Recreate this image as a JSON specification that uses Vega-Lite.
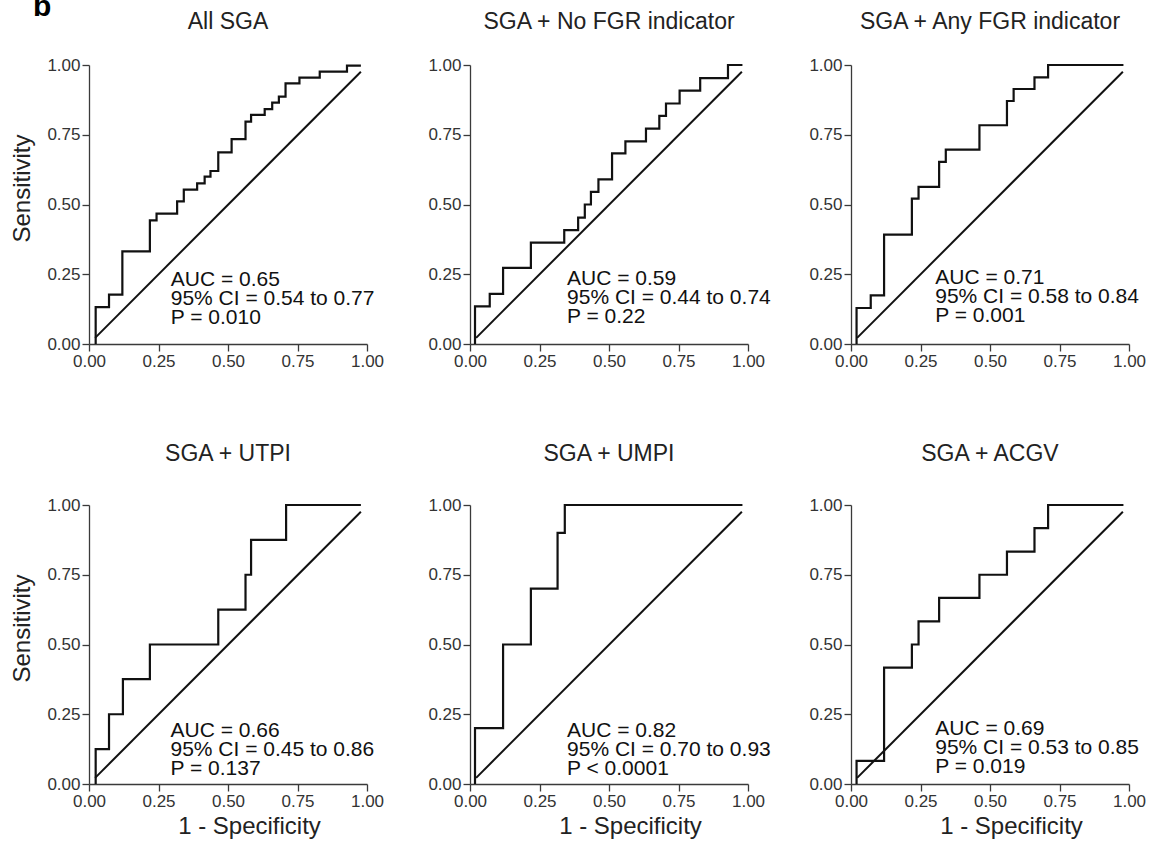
{
  "$schema": "https://vega.github.io/schema/vega-lite/v6.json",
  "padding": {"left": 10, "top": -8, "right": 5, "bottom": 5},
  "title": {"text": "b", "anchor": "start", "frame": "group", "fontSize": 30, "fontWeight": "bold", "color": "#000", "dx": -56, "offset": -35, "baseline": "alphabetic"},
  "datasets": {
    "roc": [
      {"panel": "All SGA", "i": 0, "fpr": 0.024, "tpr": 0},
      {"panel": "All SGA", "i": 1, "fpr": 0.024, "tpr": 0.132},
      {"panel": "All SGA", "i": 2, "fpr": 0.072, "tpr": 0.177},
      {"panel": "All SGA", "i": 3, "fpr": 0.12, "tpr": 0.332},
      {"panel": "All SGA", "i": 4, "fpr": 0.219, "tpr": 0.443},
      {"panel": "All SGA", "i": 5, "fpr": 0.243, "tpr": 0.467},
      {"panel": "All SGA", "i": 6, "fpr": 0.317, "tpr": 0.511},
      {"panel": "All SGA", "i": 7, "fpr": 0.341, "tpr": 0.553},
      {"panel": "All SGA", "i": 8, "fpr": 0.389, "tpr": 0.576},
      {"panel": "All SGA", "i": 9, "fpr": 0.416, "tpr": 0.6},
      {"panel": "All SGA", "i": 10, "fpr": 0.437, "tpr": 0.62},
      {"panel": "All SGA", "i": 11, "fpr": 0.465, "tpr": 0.687},
      {"panel": "All SGA", "i": 12, "fpr": 0.513, "tpr": 0.734},
      {"panel": "All SGA", "i": 13, "fpr": 0.563, "tpr": 0.797},
      {"panel": "All SGA", "i": 14, "fpr": 0.583, "tpr": 0.821},
      {"panel": "All SGA", "i": 15, "fpr": 0.632, "tpr": 0.842},
      {"panel": "All SGA", "i": 16, "fpr": 0.659, "tpr": 0.865},
      {"panel": "All SGA", "i": 17, "fpr": 0.683, "tpr": 0.887},
      {"panel": "All SGA", "i": 18, "fpr": 0.707, "tpr": 0.934},
      {"panel": "All SGA", "i": 19, "fpr": 0.757, "tpr": 0.955},
      {"panel": "All SGA", "i": 20, "fpr": 0.83, "tpr": 0.976},
      {"panel": "All SGA", "i": 21, "fpr": 0.928, "tpr": 0.998},
      {"panel": "All SGA", "i": 22, "fpr": 0.978, "tpr": 0.998},

      {"panel": "SGA + No FGR indicator", "i": 0, "fpr": 0.018, "tpr": 0},
      {"panel": "SGA + No FGR indicator", "i": 1, "fpr": 0.018, "tpr": 0.135},
      {"panel": "SGA + No FGR indicator", "i": 2, "fpr": 0.071, "tpr": 0.18},
      {"panel": "SGA + No FGR indicator", "i": 3, "fpr": 0.119, "tpr": 0.273},
      {"panel": "SGA + No FGR indicator", "i": 4, "fpr": 0.219, "tpr": 0.363},
      {"panel": "SGA + No FGR indicator", "i": 5, "fpr": 0.339, "tpr": 0.408},
      {"panel": "SGA + No FGR indicator", "i": 6, "fpr": 0.389, "tpr": 0.453},
      {"panel": "SGA + No FGR indicator", "i": 7, "fpr": 0.413, "tpr": 0.5},
      {"panel": "SGA + No FGR indicator", "i": 8, "fpr": 0.435, "tpr": 0.545},
      {"panel": "SGA + No FGR indicator", "i": 9, "fpr": 0.462, "tpr": 0.59},
      {"panel": "SGA + No FGR indicator", "i": 10, "fpr": 0.511, "tpr": 0.683},
      {"panel": "SGA + No FGR indicator", "i": 11, "fpr": 0.559, "tpr": 0.726},
      {"panel": "SGA + No FGR indicator", "i": 12, "fpr": 0.633, "tpr": 0.772},
      {"panel": "SGA + No FGR indicator", "i": 13, "fpr": 0.681, "tpr": 0.818},
      {"panel": "SGA + No FGR indicator", "i": 14, "fpr": 0.705, "tpr": 0.862},
      {"panel": "SGA + No FGR indicator", "i": 15, "fpr": 0.754, "tpr": 0.908},
      {"panel": "SGA + No FGR indicator", "i": 16, "fpr": 0.828, "tpr": 0.953},
      {"panel": "SGA + No FGR indicator", "i": 17, "fpr": 0.928, "tpr": 1.0},
      {"panel": "SGA + No FGR indicator", "i": 18, "fpr": 0.98, "tpr": 1.0},

      {"panel": "SGA + Any FGR indicator", "i": 0, "fpr": 0.02, "tpr": 0},
      {"panel": "SGA + Any FGR indicator", "i": 1, "fpr": 0.02, "tpr": 0.129},
      {"panel": "SGA + Any FGR indicator", "i": 2, "fpr": 0.071, "tpr": 0.174},
      {"panel": "SGA + Any FGR indicator", "i": 3, "fpr": 0.119, "tpr": 0.392},
      {"panel": "SGA + Any FGR indicator", "i": 4, "fpr": 0.219, "tpr": 0.521},
      {"panel": "SGA + Any FGR indicator", "i": 5, "fpr": 0.243, "tpr": 0.563},
      {"panel": "SGA + Any FGR indicator", "i": 6, "fpr": 0.317, "tpr": 0.653},
      {"panel": "SGA + Any FGR indicator", "i": 7, "fpr": 0.341, "tpr": 0.697},
      {"panel": "SGA + Any FGR indicator", "i": 8, "fpr": 0.462, "tpr": 0.784},
      {"panel": "SGA + Any FGR indicator", "i": 9, "fpr": 0.561, "tpr": 0.871},
      {"panel": "SGA + Any FGR indicator", "i": 10, "fpr": 0.585, "tpr": 0.914},
      {"panel": "SGA + Any FGR indicator", "i": 11, "fpr": 0.66, "tpr": 0.956},
      {"panel": "SGA + Any FGR indicator", "i": 12, "fpr": 0.709, "tpr": 1.0},
      {"panel": "SGA + Any FGR indicator", "i": 13, "fpr": 0.98, "tpr": 1.0},

      {"panel": "SGA + UTPI", "i": 0, "fpr": 0.024, "tpr": 0},
      {"panel": "SGA + UTPI", "i": 1, "fpr": 0.024, "tpr": 0.125},
      {"panel": "SGA + UTPI", "i": 2, "fpr": 0.072, "tpr": 0.25},
      {"panel": "SGA + UTPI", "i": 3, "fpr": 0.122, "tpr": 0.376},
      {"panel": "SGA + UTPI", "i": 4, "fpr": 0.219, "tpr": 0.5},
      {"panel": "SGA + UTPI", "i": 5, "fpr": 0.465, "tpr": 0.625},
      {"panel": "SGA + UTPI", "i": 6, "fpr": 0.563, "tpr": 0.75},
      {"panel": "SGA + UTPI", "i": 7, "fpr": 0.583, "tpr": 0.875},
      {"panel": "SGA + UTPI", "i": 8, "fpr": 0.709, "tpr": 1.0},
      {"panel": "SGA + UTPI", "i": 9, "fpr": 0.978, "tpr": 1.0},

      {"panel": "SGA + UMPI", "i": 0, "fpr": 0.018, "tpr": 0},
      {"panel": "SGA + UMPI", "i": 1, "fpr": 0.018, "tpr": 0.2},
      {"panel": "SGA + UMPI", "i": 2, "fpr": 0.119, "tpr": 0.5},
      {"panel": "SGA + UMPI", "i": 3, "fpr": 0.219, "tpr": 0.7},
      {"panel": "SGA + UMPI", "i": 4, "fpr": 0.315, "tpr": 0.9},
      {"panel": "SGA + UMPI", "i": 5, "fpr": 0.341, "tpr": 1.0},
      {"panel": "SGA + UMPI", "i": 6, "fpr": 0.98, "tpr": 1.0},

      {"panel": "SGA + ACGV", "i": 0, "fpr": 0.02, "tpr": 0},
      {"panel": "SGA + ACGV", "i": 1, "fpr": 0.02, "tpr": 0.083},
      {"panel": "SGA + ACGV", "i": 2, "fpr": 0.119, "tpr": 0.417},
      {"panel": "SGA + ACGV", "i": 3, "fpr": 0.219, "tpr": 0.5},
      {"panel": "SGA + ACGV", "i": 4, "fpr": 0.243, "tpr": 0.583},
      {"panel": "SGA + ACGV", "i": 5, "fpr": 0.317, "tpr": 0.667},
      {"panel": "SGA + ACGV", "i": 6, "fpr": 0.462, "tpr": 0.75},
      {"panel": "SGA + ACGV", "i": 7, "fpr": 0.561, "tpr": 0.833},
      {"panel": "SGA + ACGV", "i": 8, "fpr": 0.66, "tpr": 0.917},
      {"panel": "SGA + ACGV", "i": 9, "fpr": 0.709, "tpr": 1.0},
      {"panel": "SGA + ACGV", "i": 10, "fpr": 0.98, "tpr": 1.0}
    ],
    "diag": [
      {"fpr": 0.022, "tpr": 0.022},
      {"fpr": 0.978, "tpr": 0.976}
    ],
    "notes": [
      {"panel": "All SGA", "note": "AUC = 0.65\n95% CI = 0.54 to 0.77\nP = 0.010"},
      {"panel": "SGA + No FGR indicator", "note": "AUC = 0.59\n95% CI = 0.44 to 0.74\nP = 0.22"},
      {"panel": "SGA + Any FGR indicator", "note": "AUC = 0.71\n95% CI = 0.58 to 0.84\nP = 0.001"},
      {"panel": "SGA + UTPI", "note": "AUC = 0.66\n95% CI = 0.45 to 0.86\nP = 0.137"},
      {"panel": "SGA + UMPI", "note": "AUC = 0.82\n95% CI = 0.70 to 0.93\nP < 0.0001"},
      {"panel": "SGA + ACGV", "note": "AUC = 0.69\n95% CI = 0.53 to 0.85\nP = 0.019"}
    ]
  },
  "columns": 3,
  "bounds": "flush",
  "spacing": {"row": 161, "column": 103},
  "concat": [
    {
      "width": 278, "height": 279,
      "title": {"text": "All SGA", "offset": 22},
      "layer": [
        {"data": {"name": "roc"}, "transform": [{"filter": "datum.panel === 'All SGA'"}],
         "mark": {"type": "line", "interpolate": "step-after", "color": "#111", "strokeWidth": 2.2},
         "encoding": {
           "x": {"field": "fpr", "type": "quantitative", "scale": {"domain": [0, 1], "nice": false}, "axis": {"title": null, "values": [0, 0.25, 0.5, 0.75, 1], "format": ".2f"}},
           "y": {"field": "tpr", "type": "quantitative", "scale": {"domain": [0, 1], "nice": false}, "axis": {"title": "Sensitivity", "values": [0, 0.25, 0.5, 0.75, 1], "format": ".2f"}},
           "order": {"field": "i"}}},
        {"data": {"name": "diag"}, "mark": {"type": "line", "color": "#111", "strokeWidth": 2},
         "encoding": {"x": {"field": "fpr", "type": "quantitative"}, "y": {"field": "tpr", "type": "quantitative"}}},
        {"data": {"name": "notes"}, "transform": [{"filter": "datum.panel === 'All SGA'"}],
         "mark": {"type": "text", "align": "left", "baseline": "alphabetic", "fontSize": 21, "lineBreak": "\n", "lineHeight": 19, "color": "#111"},
         "encoding": {"x": {"datum": 0.294, "type": "quantitative"}, "y": {"datum": 0.208, "type": "quantitative"}, "text": {"field": "note"}}}
      ]
    },
    {
      "width": 278, "height": 279,
      "title": {"text": "SGA + No FGR indicator", "offset": 22},
      "layer": [
        {"data": {"name": "roc"}, "transform": [{"filter": "datum.panel === 'SGA + No FGR indicator'"}],
         "mark": {"type": "line", "interpolate": "step-after", "color": "#111", "strokeWidth": 2.2},
         "encoding": {
           "x": {"field": "fpr", "type": "quantitative", "scale": {"domain": [0, 1], "nice": false}, "axis": {"title": null, "values": [0, 0.25, 0.5, 0.75, 1], "format": ".2f"}},
           "y": {"field": "tpr", "type": "quantitative", "scale": {"domain": [0, 1], "nice": false}, "axis": {"title": null, "values": [0, 0.25, 0.5, 0.75, 1], "format": ".2f"}},
           "order": {"field": "i"}}},
        {"data": {"name": "diag"}, "mark": {"type": "line", "color": "#111", "strokeWidth": 2},
         "encoding": {"x": {"field": "fpr", "type": "quantitative"}, "y": {"field": "tpr", "type": "quantitative"}}},
        {"data": {"name": "notes"}, "transform": [{"filter": "datum.panel === 'SGA + No FGR indicator'"}],
         "mark": {"type": "text", "align": "left", "baseline": "alphabetic", "fontSize": 21, "lineBreak": "\n", "lineHeight": 19, "color": "#111"},
         "encoding": {"x": {"datum": 0.349, "type": "quantitative"}, "y": {"datum": 0.211, "type": "quantitative"}, "text": {"field": "note"}}}
      ]
    },
    {
      "width": 278, "height": 279,
      "title": {"text": "SGA + Any FGR indicator", "offset": 22},
      "layer": [
        {"data": {"name": "roc"}, "transform": [{"filter": "datum.panel === 'SGA + Any FGR indicator'"}],
         "mark": {"type": "line", "interpolate": "step-after", "color": "#111", "strokeWidth": 2.2},
         "encoding": {
           "x": {"field": "fpr", "type": "quantitative", "scale": {"domain": [0, 1], "nice": false}, "axis": {"title": null, "values": [0, 0.25, 0.5, 0.75, 1], "format": ".2f"}},
           "y": {"field": "tpr", "type": "quantitative", "scale": {"domain": [0, 1], "nice": false}, "axis": {"title": null, "values": [0, 0.25, 0.5, 0.75, 1], "format": ".2f"}},
           "order": {"field": "i"}}},
        {"data": {"name": "diag"}, "mark": {"type": "line", "color": "#111", "strokeWidth": 2},
         "encoding": {"x": {"field": "fpr", "type": "quantitative"}, "y": {"field": "tpr", "type": "quantitative"}}},
        {"data": {"name": "notes"}, "transform": [{"filter": "datum.panel === 'SGA + Any FGR indicator'"}],
         "mark": {"type": "text", "align": "left", "baseline": "alphabetic", "fontSize": 21, "lineBreak": "\n", "lineHeight": 19, "color": "#111"},
         "encoding": {"x": {"datum": 0.303, "type": "quantitative"}, "y": {"datum": 0.214, "type": "quantitative"}, "text": {"field": "note"}}}
      ]
    },
    {
      "width": 278, "height": 279,
      "title": {"text": "SGA + UTPI", "offset": 30},
      "layer": [
        {"data": {"name": "roc"}, "transform": [{"filter": "datum.panel === 'SGA + UTPI'"}],
         "mark": {"type": "line", "interpolate": "step-after", "color": "#111", "strokeWidth": 2.2},
         "encoding": {
           "x": {"field": "fpr", "type": "quantitative", "scale": {"domain": [0, 1], "nice": false}, "axis": {"title": "1 - Specificity", "values": [0, 0.25, 0.5, 0.75, 1], "format": ".2f"}},
           "y": {"field": "tpr", "type": "quantitative", "scale": {"domain": [0, 1], "nice": false}, "axis": {"title": "Sensitivity", "values": [0, 0.25, 0.5, 0.75, 1], "format": ".2f"}},
           "order": {"field": "i"}}},
        {"data": {"name": "diag"}, "mark": {"type": "line", "color": "#111", "strokeWidth": 2},
         "encoding": {"x": {"field": "fpr", "type": "quantitative"}, "y": {"field": "tpr", "type": "quantitative"}}},
        {"data": {"name": "notes"}, "transform": [{"filter": "datum.panel === 'SGA + UTPI'"}],
         "mark": {"type": "text", "align": "left", "baseline": "alphabetic", "fontSize": 21, "lineBreak": "\n", "lineHeight": 19, "color": "#111"},
         "encoding": {"x": {"datum": 0.293, "type": "quantitative"}, "y": {"datum": 0.168, "type": "quantitative"}, "text": {"field": "note"}}}
      ]
    },
    {
      "width": 278, "height": 279,
      "title": {"text": "SGA + UMPI", "offset": 30},
      "layer": [
        {"data": {"name": "roc"}, "transform": [{"filter": "datum.panel === 'SGA + UMPI'"}],
         "mark": {"type": "line", "interpolate": "step-after", "color": "#111", "strokeWidth": 2.2},
         "encoding": {
           "x": {"field": "fpr", "type": "quantitative", "scale": {"domain": [0, 1], "nice": false}, "axis": {"title": "1 - Specificity", "values": [0, 0.25, 0.5, 0.75, 1], "format": ".2f"}},
           "y": {"field": "tpr", "type": "quantitative", "scale": {"domain": [0, 1], "nice": false}, "axis": {"title": null, "values": [0, 0.25, 0.5, 0.75, 1], "format": ".2f"}},
           "order": {"field": "i"}}},
        {"data": {"name": "diag"}, "mark": {"type": "line", "color": "#111", "strokeWidth": 2},
         "encoding": {"x": {"field": "fpr", "type": "quantitative"}, "y": {"field": "tpr", "type": "quantitative"}}},
        {"data": {"name": "notes"}, "transform": [{"filter": "datum.panel === 'SGA + UMPI'"}],
         "mark": {"type": "text", "align": "left", "baseline": "alphabetic", "fontSize": 21, "lineBreak": "\n", "lineHeight": 19, "color": "#111"},
         "encoding": {"x": {"datum": 0.349, "type": "quantitative"}, "y": {"datum": 0.169, "type": "quantitative"}, "text": {"field": "note"}}}
      ]
    },
    {
      "width": 278, "height": 279,
      "title": {"text": "SGA + ACGV", "offset": 30},
      "layer": [
        {"data": {"name": "roc"}, "transform": [{"filter": "datum.panel === 'SGA + ACGV'"}],
         "mark": {"type": "line", "interpolate": "step-after", "color": "#111", "strokeWidth": 2.2},
         "encoding": {
           "x": {"field": "fpr", "type": "quantitative", "scale": {"domain": [0, 1], "nice": false}, "axis": {"title": "1 - Specificity", "values": [0, 0.25, 0.5, 0.75, 1], "format": ".2f"}},
           "y": {"field": "tpr", "type": "quantitative", "scale": {"domain": [0, 1], "nice": false}, "axis": {"title": null, "values": [0, 0.25, 0.5, 0.75, 1], "format": ".2f"}},
           "order": {"field": "i"}}},
        {"data": {"name": "diag"}, "mark": {"type": "line", "color": "#111", "strokeWidth": 2},
         "encoding": {"x": {"field": "fpr", "type": "quantitative"}, "y": {"field": "tpr", "type": "quantitative"}}},
        {"data": {"name": "notes"}, "transform": [{"filter": "datum.panel === 'SGA + ACGV'"}],
         "mark": {"type": "text", "align": "left", "baseline": "alphabetic", "fontSize": 21, "lineBreak": "\n", "lineHeight": 19, "color": "#111"},
         "encoding": {"x": {"datum": 0.303, "type": "quantitative"}, "y": {"datum": 0.175, "type": "quantitative"}, "text": {"field": "note"}}}
      ]
    }
  ],
  "config": {
    "font": "Liberation Sans",
    "view": {"stroke": null},
    "axis": {"grid": false, "domainColor": "#3a3a3a", "domainWidth": 1.3, "tickColor": "#3a3a3a", "tickWidth": 1.3, "tickSize": 7, "labelFont": "Liberation Sans", "labelFontSize": 17, "labelColor": "#333", "labelPadding": 2, "labelFlush": false, "labelOverlap": false, "titleFont": "Liberation Sans", "titleFontSize": 24, "titleFontWeight": "normal", "titleColor": "#222"},
    "axisX": {"titleX": 160, "titleY": 49, "titleBaseline": "alphabetic"},
    "axisY": {"titleX": -60, "titleY": 123, "titleBaseline": "alphabetic"},
    "title": {"font": "Liberation Sans", "fontSize": 23, "fontWeight": "normal", "color": "#222", "baseline": "alphabetic"}
  }
}
